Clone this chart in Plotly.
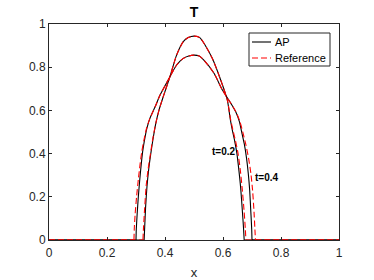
import plotly.graph_objects as go

# ---- data (profile between the two fronts; T=0 elsewhere) ----
# t=0.2 (narrow, tall profile)
y_t02 = [0.0, 0.06, 0.15, 0.25, 0.33, 0.40, 0.47, 0.545, 0.605, 0.664, 0.756, 0.856, 0.918, 0.937, 0.944,
         0.937, 0.905, 0.841, 0.741, 0.648, 0.56, 0.51, 0.46, 0.40, 0.32, 0.24, 0.13, 0.05, 0.0]
x_ap_02 = [0.328, 0.330, 0.333, 0.338, 0.344, 0.351, 0.359, 0.369, 0.380, 0.394, 0.417, 0.440, 0.463, 0.480, 0.500,
           0.520, 0.537, 0.563, 0.592, 0.615, 0.625, 0.632, 0.640, 0.648, 0.655, 0.661, 0.667, 0.671, 0.673]
x_ref_02 = [0.324, 0.326, 0.330, 0.335, 0.342, 0.350, 0.358, 0.369, 0.380, 0.394, 0.417, 0.440, 0.463, 0.480, 0.500,
            0.520, 0.537, 0.563, 0.592, 0.615, 0.626, 0.634, 0.643, 0.652, 0.660, 0.666, 0.673, 0.677, 0.679]

# t=0.4 (wide, lower profile)
y_t04 = [0.0, 0.05, 0.12, 0.20, 0.28, 0.35, 0.41, 0.46, 0.515, 0.563, 0.617, 0.671, 0.741, 0.810, 0.841, 0.852,
         0.856, 0.852, 0.833, 0.772, 0.694, 0.633, 0.59, 0.55, 0.49, 0.44, 0.38, 0.31, 0.23, 0.13, 0.05, 0.0]
x_ap_04 = [0.300, 0.301, 0.304, 0.308, 0.313, 0.318, 0.323, 0.329, 0.337, 0.348, 0.366, 0.383, 0.411, 0.440, 0.463,
           0.482, 0.500, 0.518, 0.534, 0.569, 0.598, 0.627, 0.645, 0.656, 0.666, 0.674, 0.681, 0.687, 0.692, 0.696,
           0.699, 0.700]
x_ref_04 = [0.293, 0.294, 0.297, 0.302, 0.308, 0.314, 0.320, 0.327, 0.336, 0.348, 0.366, 0.383, 0.411, 0.440, 0.463,
            0.482, 0.500, 0.518, 0.534, 0.569, 0.598, 0.627, 0.646, 0.658, 0.670, 0.679, 0.688, 0.696, 0.702, 0.707,
            0.710, 0.712]

x_range = [0, 1]
y_range = [0, 1]
x_ticks = [0, 0.2, 0.4, 0.6, 0.8, 1]
x_tick_labels = ["0", "0.2", "0.4", "0.6", "0.8", "1"]
y_ticks = [0, 0.2, 0.4, 0.6, 0.8, 1]
y_tick_labels = ["0", "0.2", "0.4", "0.6", "0.8", "1"]

curve_labels = ["t=0.2", "t=0.4"]
curve_label_x = [0.602, 0.751]
curve_label_y = [0.412, 0.290]

series_names = ["AP", "Reference"]

AXC = "#262626"
FONT = "Liberation Sans, Arial, Helvetica, sans-serif"
AP_LINE = dict(color="black", width=1.1)
REF_LINE = dict(color="#ff0000", width=1.1, dash="6px,3px")


def add_curve(fig, xs, ys, line, name):
    # T = 0 outside the fronts, over the whole domain
    fig.add_trace(go.Scatter(x=[x_range[0], xs[0], None, xs[-1], x_range[1]], y=[0, 0, None, 0, 0],
                             mode="lines", line=line, name=name, showlegend=False, hoverinfo="skip"))
    fig.add_trace(go.Scatter(x=xs, y=ys, mode="lines", line=dict(shape="spline", smoothing=0.6, **line),
                             name=name, showlegend=False))


fig = go.Figure()
add_curve(fig, x_ap_02, y_t02, AP_LINE, series_names[0])
add_curve(fig, x_ap_04, y_t04, AP_LINE, series_names[0])
add_curve(fig, x_ref_02, y_t02, REF_LINE, series_names[1])
add_curve(fig, x_ref_04, y_t04, REF_LINE, series_names[1])

for txt, tx, ty in zip(curve_labels, curve_label_x, curve_label_y):
    fig.add_annotation(x=tx, y=ty, text="<b>" + txt + "</b>", showarrow=False,
                       font=dict(size=10, color="black", family=FONT))


# ---- legend box (MATLAB style, compact) ----
def px(p):  # pixel column -> paper x
    return (p - 49) / 290


def py(p):  # pixel row -> paper y
    return (240 - p) / 216


fig.add_shape(type="rect", xref="paper", yref="paper", x0=px(249), x1=px(330), y0=py(66), y1=py(33),
              line=dict(color=AXC, width=1), fillcolor="white", layer="above")
for i, (nm, ln) in enumerate(zip(series_names, [AP_LINE, REF_LINE])):
    yy = py(42 + 16 * i)
    fig.add_shape(type="line", xref="paper", yref="paper", x0=px(252), x1=px(271), y0=yy, y1=yy,
                  line=ln, layer="above")
    fig.add_annotation(xref="paper", yref="paper", x=px(273), y=yy, text=nm, showarrow=False,
                       xanchor="left", yanchor="middle", font=dict(size=11, color="black", family=FONT))

axis_common = dict(showgrid=False, zeroline=False, showline=True, linecolor=AXC, linewidth=1,
                   mirror="ticks", ticks="inside", ticklen=3, tickcolor=AXC, tickwidth=1,
                   automargin=False, tickfont=dict(size=12, color=AXC, family=FONT))
fig.update_xaxes(range=x_range, tickvals=x_ticks, ticktext=x_tick_labels, ticklabelstandoff=2,
                 title=dict(text="x", font=dict(size=13, color=AXC, family=FONT), standoff=10),
                 **axis_common)
fig.update_yaxes(range=y_range, tickvals=y_ticks, ticktext=y_tick_labels, **axis_common)

fig.update_layout(
    width=374, height=280,
    margin=dict(l=49, r=35, t=24, b=40, autoexpand=False),
    paper_bgcolor="white", plot_bgcolor="white",
    title=dict(text="<b>T</b>", x=(194 / 374), xanchor="center", y=1 - 12 / 280, yanchor="middle",
               font=dict(size=14, color="black", family=FONT)),
    showlegend=False,
)

fig.write_html("out.html", config={"displayModeBar": False},
               post_script="document.body.style.margin='0px';")
